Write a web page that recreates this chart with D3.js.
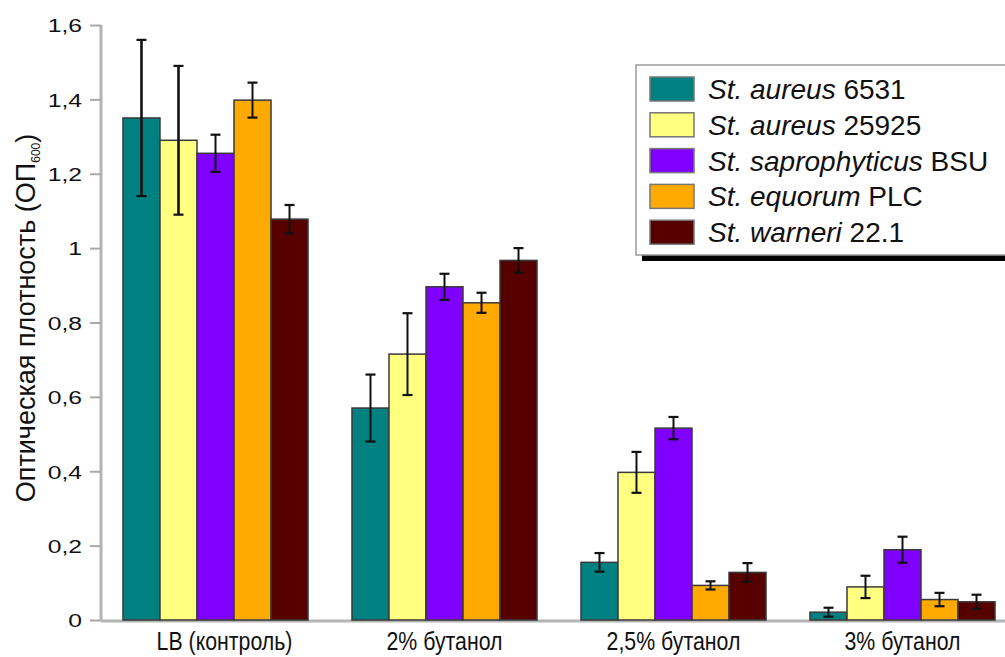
<!DOCTYPE html>
<html>
<head>
<meta charset="utf-8">
<script src="https://cdn.jsdelivr.net/npm/d3@7"></script>
<style>
  html, body { margin: 0; padding: 0; background: #fff; }
  svg { display: block; font-family: "Liberation Sans", Arial, sans-serif; }
</style>
</head>
<body>
<svg id="chart" width="1005" height="657"></svg>
<script>
// Conditions along the x axis
const categories = ["LB (контроль)", "2% бутанол", "2,5% бутанол", "3% бутанол"];

// Strains: italic species name + strain code
const strainNames = ["St. aureus", "St. aureus", "St. saprophyticus", "St. equorum", "St. warneri"];
const strainCodes = ["6531", "25925", "BSU", "PLC", "22.1"];
const strainColors = ["#008080", "#ffff80", "#8000ff", "#ffaa00", "#560000"];

// Optical density (OD600) per strain, one value per condition
const aureus6531 = [1.35, 0.57, 0.155, 0.021];
const aureus25925 = [1.29, 0.715, 0.397, 0.089];
const saprophyticusBSU = [1.255, 0.896, 0.516, 0.189];
const equorumPLC = [1.398, 0.853, 0.093, 0.055];
const warneri221 = [1.078, 0.967, 0.128, 0.049];

// Standard deviations for the error bars
const aureus6531Err = [0.21, 0.09, 0.025, 0.012];
const aureus25925Err = [0.2, 0.11, 0.055, 0.03];
const saprophyticusBSUErr = [0.05, 0.035, 0.03, 0.035];
const equorumPLCErr = [0.047, 0.027, 0.011, 0.018];
const warneri221Err = [0.038, 0.033, 0.025, 0.019];

const yTicks = [0, 0.2, 0.4, 0.6, 0.8, 1, 1.2, 1.4, 1.6];

const seriesValues = [aureus6531, aureus25925, saprophyticusBSU, equorumPLC, warneri221];
const seriesErrors = [aureus6531Err, aureus25925Err, saprophyticusBSUErr, equorumPLCErr, warneri221Err];

const svg = d3.select("#chart");

const plotLeft = 101, plotBottom = 620, plotTop = 25;

const y = d3.scaleLinear().domain([0, 1.6]).range([plotBottom, plotTop]);
const x0 = d3.scaleBand().domain(categories).range([plotLeft, 1017])
  .paddingInner(0.192).paddingOuter(0.096);
const x1 = d3.scaleBand().domain(d3.range(strainNames.length)).range([0, x0.bandwidth()]);

const fmt = v => String(v).replace(".", ",");

// Y axis
const yAxis = svg.append("g")
  .attr("transform", `translate(${plotLeft},0)`)
  .call(d3.axisLeft(y).tickValues(yTicks).tickFormat(fmt).tickSize(11).tickPadding(8));
yAxis.select(".domain").attr("stroke", "#b4b4b4").attr("stroke-width", 3)
  .attr("d", `M0,${plotBottom}V${plotTop}`);
yAxis.selectAll(".tick line").attr("stroke", "#a8a8a8").attr("stroke-width", 2);
yAxis.selectAll(".tick text")
  .attr("x", 0)
  .attr("dy", "0.36em")
  .attr("transform", "translate(-19,0) scale(1.3,1)")
  .attr("text-anchor", "end")
  .attr("font-size", 19).attr("fill", "#111")
  .attr("font-family", "'Liberation Sans', Arial, sans-serif");

// X axis baseline
svg.append("line")
  .attr("x1", plotLeft).attr("x2", 1005)
  .attr("y1", plotBottom + 1).attr("y2", plotBottom + 1)
  .attr("stroke", "#b4b4b4").attr("stroke-width", 3);

// Bars
const groups = svg.append("g").selectAll("g")
  .data(categories)
  .join("g")
  .attr("transform", d => `translate(${x0(d)},0)`);

groups.each(function(cat, ci) {
  const g = d3.select(this);
  seriesValues.forEach((vals, si) => {
    const v = vals[ci];
    const e = seriesErrors[si][ci];
    const bx = x1(si);
    g.append("rect")
      .attr("x", bx).attr("y", y(v))
      .attr("width", x1.bandwidth()).attr("height", y(0) - y(v))
      .attr("fill", strainColors[si])
      .attr("stroke", "#3a3a3a").attr("stroke-width", 1.5);
    const cx = bx + x1.bandwidth() / 2;
    const lw = e > 0.15 ? 2.6 : 2;
    g.append("line")
      .attr("x1", cx).attr("x2", cx)
      .attr("y1", y(v + e)).attr("y2", y(v - e))
      .attr("stroke", "#111").attr("stroke-width", lw);
    [v + e, v - e].forEach(t => {
      g.append("line")
        .attr("x1", cx - 5).attr("x2", cx + 5)
        .attr("y1", y(t)).attr("y2", y(t))
        .attr("stroke", "#111").attr("stroke-width", 2.2);
    });
  });
});

// Category labels (narrow lettering)
svg.append("g").selectAll("text")
  .data(categories)
  .join("text")
  .attr("transform", d => {
    const cx = x0(d) + x0.bandwidth() / 2 + (d === categories[0] ? 9 : 0);
    return `translate(${cx},650) scale(0.82,1)`;
  })
  .attr("text-anchor", "middle")
  .attr("font-size", 26)
  .attr("fill", "#111")
  .text(d => d);

// Y axis title
const yTitle = svg.append("text")
  .attr("transform", "translate(35,318) rotate(-90)")
  .attr("text-anchor", "middle")
  .attr("font-size", 27)
  .attr("fill", "#111");
yTitle.append("tspan").text("Оптическая плотность (ОП");
yTitle.append("tspan").attr("font-size", 12).attr("dy", 5).text("600");
yTitle.append("tspan").attr("dy", -5).text(")");

// Legend
const legend = svg.append("g");
legend.append("rect")
  .attr("x", 642).attr("y", 70).attr("width", 380).attr("height", 191)
  .attr("fill", "#000");
legend.append("rect")
  .attr("x", 636).attr("y", 65).attr("width", 380).attr("height", 190)
  .attr("fill", "#fff").attr("stroke", "#9a9a9a").attr("stroke-width", 1.5);

const rows = legend.selectAll("g.row")
  .data(strainNames)
  .join("g")
  .attr("class", "row")
  .attr("transform", (d, i) => `translate(0,${77 + i * 35.8})`);
rows.append("rect")
  .attr("x", 650).attr("y", 0).attr("width", 44).attr("height", 24)
  .attr("fill", (d, i) => strainColors[i])
  .attr("stroke", "#777").attr("stroke-width", 1.5);
const lt = rows.append("text")
  .attr("x", 708).attr("y", 22)
  .attr("font-size", 28)
  .attr("fill", "#111");
lt.append("tspan").attr("font-style", "italic").text(d => d + " ");
lt.append("tspan").text((d, i) => strainCodes[i]);
</script>
</body>
</html>
